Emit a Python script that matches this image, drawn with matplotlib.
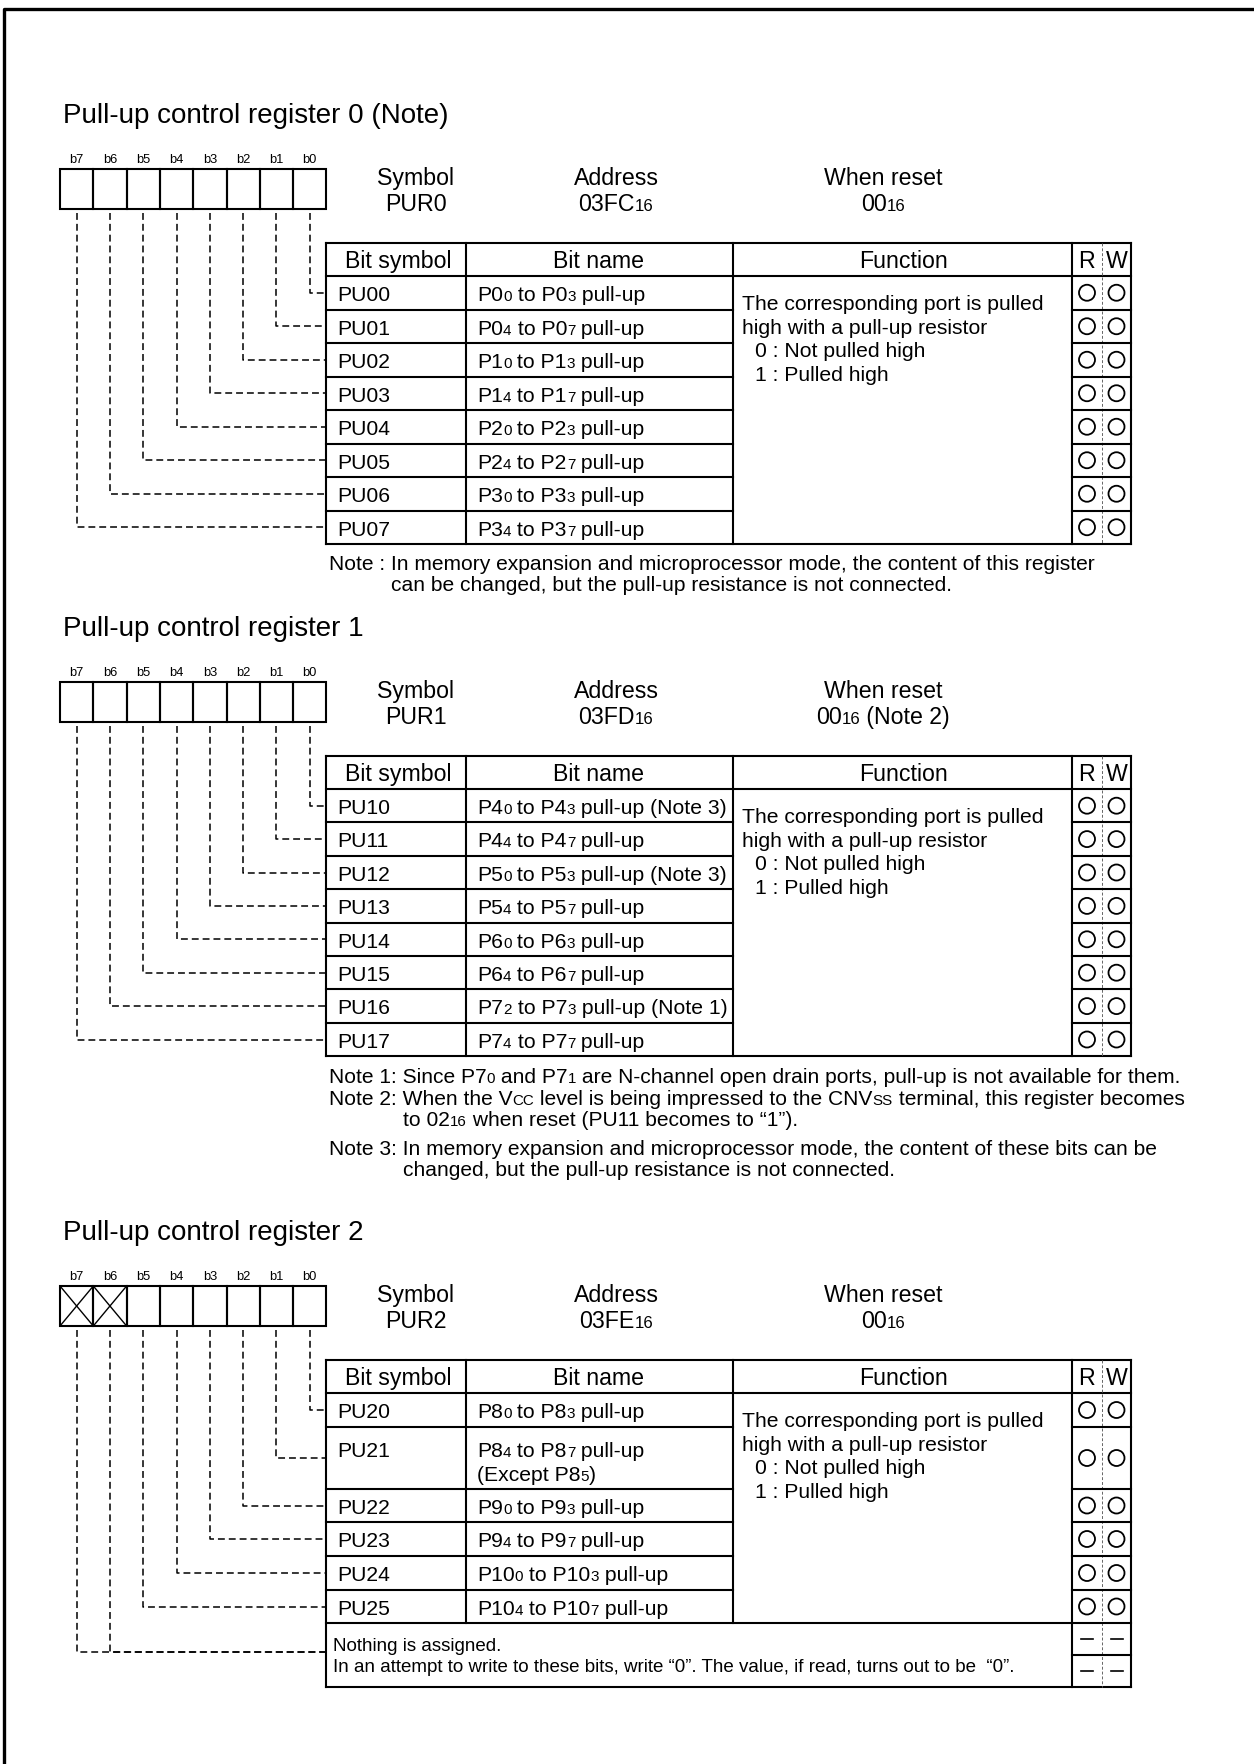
import re
import matplotlib
matplotlib.use("Agg")
import matplotlib.pyplot as plt
from matplotlib.font_manager import FontProperties
from matplotlib.patches import Circle, Rectangle

FONT = "Liberation Sans"
plt.rcParams["font.family"] = [FONT, "DejaVu Sans"]

# ---- content ----
titles = ["Pull-up control register 0 (Note)",
          "Pull-up control register 1",
          "Pull-up control register 2"]
symbols = ["PUR0", "PUR1", "PUR2"]
addresses = ["03FC{16}", "03FD{16}", "03FE{16}"]
resets = ["00{16}", "00{16} (Note 2)", "00{16}"]
bit_labels = ["b7", "b6", "b5", "b4", "b3", "b2", "b1", "b0"]
unused_bits = [[], [], [7, 6]]
headers = ["Bit symbol", "Bit name", "Function", "R", "W"]

bits0 = ["PU00", "PU01", "PU02", "PU03", "PU04", "PU05", "PU06", "PU07"]
names0 = ["P0{0} to P0{3} pull-up", "P0{4} to P0{7} pull-up",
          "P1{0} to P1{3} pull-up", "P1{4} to P1{7} pull-up",
          "P2{0} to P2{3} pull-up", "P2{4} to P2{7} pull-up",
          "P3{0} to P3{3} pull-up", "P3{4} to P3{7} pull-up"]

bits1 = ["PU10", "PU11", "PU12", "PU13", "PU14", "PU15", "PU16", "PU17"]
names1 = ["P4{0} to P4{3} pull-up (Note 3)", "P4{4} to P4{7} pull-up",
          "P5{0} to P5{3} pull-up (Note 3)", "P5{4} to P5{7} pull-up",
          "P6{0} to P6{3} pull-up", "P6{4} to P6{7} pull-up",
          "P7{2} to P7{3} pull-up (Note 1)", "P7{4} to P7{7} pull-up"]

bits2 = ["PU20", "PU21", "PU22", "PU23", "PU24", "PU25"]
names2 = ["P8{0} to P8{3} pull-up", "P8{4} to P8{7} pull-up\n(Except P8{5})",
          "P9{0} to P9{3} pull-up", "P9{4} to P9{7} pull-up",
          "P10{0} to P10{3} pull-up", "P10{4} to P10{7} pull-up"]

func_lines = ["The corresponding port is pulled",
              "high with a pull-up resistor",
              "0 : Not pulled high",
              "1 : Pulled high"]

notes0 = ["Note : In memory expansion and microprocessor mode, the content of this register",
          "can be changed, but the pull-up resistance is not connected."]
notes1 = ["Note 1: Since P7{0} and P7{1} are N-channel open drain ports, pull-up is not available for them.",
          "Note 2: When the V{CC} level is being impressed to the CNV{SS} terminal, this register becomes",
          "to 02{16} when reset (PU11 becomes to \u201c1\u201d).",
          "Note 3: In memory expansion and microprocessor mode, the content of these bits can be",
          "changed, but the pull-up resistance is not connected."]
nothing_lines = ["Nothing is assigned.",
                 "In an attempt to write to these bits, write \u201c0\u201d. The value, if read, turns out to be  \u201c0\u201d."]

# ---- layout (pixels) ----
W, H = 1254, 1765
BOX_X0, CELL = 60, 33.3
BOX_TOP = [170, 683, 1287]
COLS = [326, 466, 733, 1072, 1102, 1131]
ROWS_H = [[33.5] * 8, [33.4] * 8, [34, 62, 33, 34, 34, 33]]
NOTHING_H = 64

TITLE, HEAD, BODY, NOTE, BITLBL, SMALLTXT = 20, 16.7, 15.2, 15.1, 9.3, 13.5
LW = 1.5

fig = plt.figure(figsize=(W / 100, H / 100), dpi=100)
ax = fig.add_axes([0, 0, 1, 1])
ax.set_xlim(0, W)
ax.set_ylim(H, 0)
ax.axis("off")
R = fig.canvas.get_renderer()


def parse(s):
    return [(t, i % 2 == 1) for i, t in enumerate(re.split(r"[{}]", s)) if t]


def width(s, size):
    fp = FontProperties(family=FONT, size=size)
    a = R.get_text_width_height_descent("|" + s + "|", fp, ismath=False)[0]
    b = R.get_text_width_height_descent("||", fp, ismath=False)[0]
    return a - b


def rich(x, y, s, size, ha="left", small=0.72):
    # small digits sit on the baseline, like the datasheet
    parts = parse(s)
    sizes = [size * small if sm else size for t, sm in parts]
    ws = [width(t, sz) for (t, sm), sz in zip(parts, sizes)]
    if ha == "center":
        x -= sum(ws) / 2
    base = y + 0.35 * size * 100 / 72
    for (t, sm), sz, w in zip(parts, sizes, ws):
        ax.text(x, base, t, fontsize=sz, ha="left", va="baseline", family=FONT)
        x += w


def hline(x0, x1, y, lw=LW):
    ax.plot([x0, x1], [y, y], color="black", lw=lw, solid_capstyle="projecting")


def vline(x, y0, y1, lw=LW):
    ax.plot([x, x], [y0, y1], color="black", lw=lw, solid_capstyle="projecting")


def dash_path(xs, ys):
    ax.plot(xs, ys, color="black", lw=1.1, linestyle=(0, (4.5, 2.6)))


def section(k, bits, names, notes, note_dy, note_indent, nothing=False):
    top = BOX_TOP[k]
    bot = top + 40
    rich(63, top - 57, titles[k], TITLE)

    # register box
    for i in range(8):
        x = BOX_X0 + CELL * i
        ax.add_patch(Rectangle((x, top), CELL, 40, fill=False, lw=LW, ec="black"))
        ax.text(x + CELL / 2, top - 10.5, bit_labels[i], fontsize=BITLBL,
                ha="center", va="center", family=FONT)
        if 7 - i in unused_bits[k]:
            ax.plot([x, x + CELL], [top, bot], color="black", lw=1)
            ax.plot([x, x + CELL], [bot, top], color="black", lw=1)

    for xc, a, b in [(416, "Symbol", symbols[k]), (616, "Address", addresses[k]),
                     (883, "When reset", resets[k])]:
        rich(xc, top + 7, a, HEAD, ha="center")
        rich(xc, top + 33, b, HEAD, ha="center")

    # table
    y0 = top + 73.5
    y1 = y0 + 33.5
    rh = ROWS_H[k]
    edges = [y1]
    for h in rh:
        edges.append(edges[-1] + h)
    rows_end = edges[-1]
    y_end = rows_end + (NOTHING_H if nothing else 0)

    hline(COLS[0], COLS[5], y0)
    hline(COLS[0], COLS[5], y1)
    hline(COLS[0], COLS[5], y_end)
    vline(COLS[0], y0, y_end)
    vline(COLS[5], y0, y_end)
    vline(COLS[1], y0, rows_end)
    vline(COLS[2], y0, rows_end)
    vline(COLS[3], y0, y_end)
    ax.plot([COLS[4], COLS[4]], [y0, y_end], color="#666666", lw=0.7,
            linestyle=(0, (3, 2)))
    for e in edges[1:-1]:
        hline(COLS[0], COLS[2], e)
        hline(COLS[3], COLS[5], e)
    if nothing:
        hline(COLS[0], COLS[5], rows_end)
        hline(COLS[3], COLS[5], rows_end + NOTHING_H / 2)

    hx = [(COLS[0] + COLS[1]) / 2 + 2, (COLS[1] + COLS[2]) / 2 - 1,
          (COLS[2] + COLS[3]) / 2 + 1, (COLS[3] + COLS[4]) / 2, (COLS[4] + COLS[5]) / 2]
    for x, t in zip(hx, headers):
        rich(x, y0 + 16.5, t, HEAD, ha="center")

    rx, wx = (COLS[3] + COLS[4]) / 2, (COLS[4] + COLS[5]) / 2
    for i, (b, n) in enumerate(zip(bits, names)):
        yc = (edges[i] + edges[i + 1]) / 2
        lines = n.split("\n")
        if len(lines) == 1:
            rich(337, yc, b, BODY)
            rich(477, yc, n, BODY)
        else:
            rich(337, edges[i] + 22, b, BODY)
            for j, ln in enumerate(lines):
                rich(477, edges[i] + 22 + 24 * j, ln, BODY)
        for cx in (rx, wx):
            ax.add_patch(Circle((cx, yc), 8, fill=False, lw=1.3, ec="black"))

    fy = [25.5, 49.5, 72.5, 96.5]
    fx = [742.5, 742.5, 755, 755]
    for x, dy, t in zip(fx, fy, func_lines):
        rich(x, y1 + dy, t, BODY)

    # dashed leaders from the bits to the rows
    for i in range(len(bits)):
        x = BOX_X0 + CELL * (7 - i + 0.5)
        yc = (edges[i] + edges[i + 1]) / 2
        dash_path([x, x, COLS[0]], [bot + 4, yc, yc])
    if nothing:
        yc = rows_end + NOTHING_H / 2 - 3
        for i in unused_bits[k]:
            x = BOX_X0 + CELL * (7 - i + 0.5)
            dash_path([x, x, COLS[0]], [bot + 4, yc, yc])
        rich(333, rows_end + 20, nothing_lines[0], SMALLTXT)
        rich(333, rows_end + 41, nothing_lines[1], SMALLTXT)
        for cy in (rows_end + 16, rows_end + 48):
            for cx in (rx, wx):
                ax.plot([cx - 6, cx + 6], [cy, cy], color="black", lw=1.2)

    for dy, ind, t in zip(note_dy, note_indent, notes):
        rich(ind, y_end + dy, t, NOTE)


section(0, bits0, names0, notes0, [17.5, 39], [329, 391])
section(1, bits1, names1, notes1, [18, 40, 61.5, 90, 111], [329, 329, 403, 329, 403])
section(2, bits2, names2, [], [], [], nothing=True)

# page frame
ax.plot([4, 4, W], [H, 10, 10], color="black", lw=2.4)

fig.savefig("out.png", dpi=100)
